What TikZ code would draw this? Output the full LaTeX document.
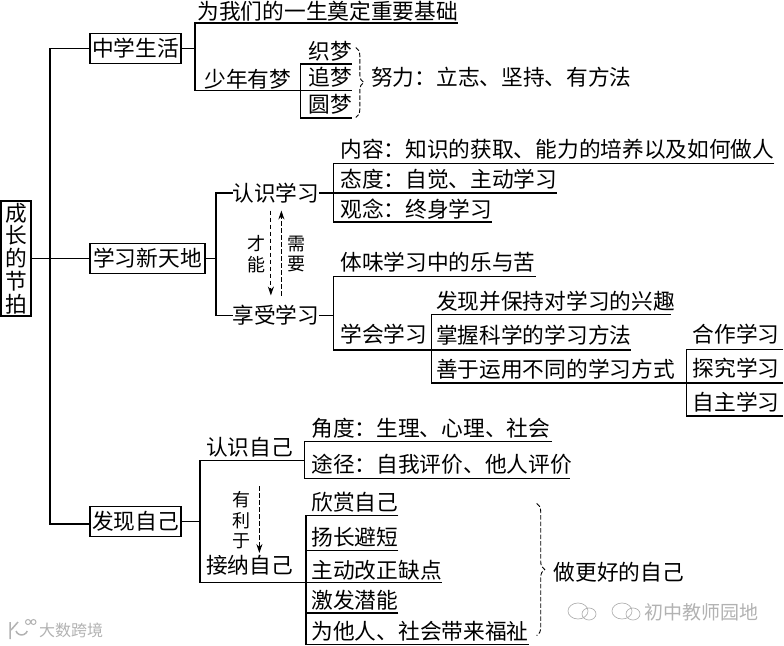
\documentclass[tikz,border=0pt]{standalone}
\usepackage{xcolor}
\usepackage{fontspec}
\setmainfont{Noto Sans CJK SC}
\usetikzlibrary{positioning,arrows.meta,decorations.pathreplacing,calc}

\begin{document}
\begin{tikzpicture}[
    x=1pt, y=-1pt, line width=1.1pt,
    rootbox/.style={draw, inner sep=0pt, outer sep=0pt, minimum width=30pt, minimum height=115pt,
        font=\fontsize{21.7}{22.8}\selectfont, align=center},
    mainbox/.style={draw, inner sep=0pt, outer sep=0pt, minimum height=30pt,
        font=\fontsize{21.7}{24}\selectfont},
    leaf/.style={inner sep=0pt, outer sep=0pt, text height=18.5pt, text depth=2.5pt,
        font=\fontsize{21.7}{24}\selectfont},
    sidetext/.style={inner sep=0pt, outer sep=0pt, font=\fontsize{18}{20.5}\selectfont, align=center},
    flow/.style={-{Stealth[length=9pt,width=6pt]}, dashed, line width=0.9pt,
        dash pattern=on 4.5pt off 2.5pt},
    dreambrace/.style={decorate, decoration={brace, amplitude=8pt}, line width=0.9pt,
        dash pattern=on 4.5pt off 2pt},
    wmark/.style={inner sep=0pt, outer sep=0pt, color=black!30},
]
\useasboundingbox (0,0) rectangle (784,645);

% Root and the three main boxes
\node[rootbox] (root) at (16,258.5) {成\\长\\的\\节\\拍};
\node[mainbox, minimum width=115pt, right=59pt of root] (study) {学习新天地};
\node[mainbox, minimum width=91pt, above=180pt of study.north west, anchor=south west] (life) {中学生活};
\node[mainbox, minimum width=91pt, below=233pt of study.south west, anchor=north west] (self) {发现自己};
\coordinate[right=19pt of root] (spine);
\draw (root) -- (study);
\draw (life.west) -| (spine) |- ([yshift=-2.5pt]self.west);

% Middle school life
\coordinate[right=14pt of life] (lifefork);
\coordinate[above=25.5pt of lifefork] (lifetop);
\node[leaf, above right=27pt and 2.5pt of lifefork] (base) {为我们的一生奠定重要基础};
\node[leaf, below right=20pt and 9.5pt of lifefork] (dream) {少年有梦};
\coordinate[below right=1pt and 9.5pt of dream.south east] (dreamfork);
\node[leaf, above right=2.5pt and 7.5pt of dreamfork] (chase) {追梦};
\node[leaf, above=5pt of chase] (weave) {织梦};
\node[leaf, below=6pt of chase] (circle) {圆梦};
\node[leaf, right=19.5pt of chase] (effort) {努力：立志、坚持、有方法};
\coordinate[above=26.5pt of dreamfork] (dreamtop);
\coordinate[below=27.5pt of dreamfork] (dreambot);
\coordinate[above left=30pt and 15.4pt of effort.west] (effortup);
\coordinate[below left=40pt and 15.4pt of effort.west] (effortdown);
\draw (life) -- (lifefork);
\draw (base.east |- lifetop) -- (lifetop) -- (lifetop |- dreamfork) -- (chase.east |- dreamfork);
\draw (chase.east |- dreamtop) -- (dreamtop) -- (dreambot) -- (chase.east |- dreambot);
\draw[dreambrace] (effortup) -- (effortdown);

% New world of study
\coordinate[right=11pt of study] (studyfork);
\node[leaf, above right=55pt and 16.5pt of studyfork] (knowstudy) {认识学习};
\node[leaf, below right=46.5pt and 16.5pt of studyfork] (enjoy) {享受学习};
\draw (study) -- (studyfork);
\draw (knowstudy.west) -| (studyfork) |- (enjoy.west);

\coordinate[right=14pt of knowstudy] (knowfork);
\coordinate[above=29.5pt of knowfork] (knowtop);
\coordinate[below=29pt of knowfork] (knowbot);
\node[leaf, above right=33pt and 7pt of knowfork] (content) {内容：知识的获取、能力的培养以及如何做人};
\node[leaf, above right=3pt and 7pt of knowfork] (attitude) {态度：自觉、主动学习};
\node[leaf, below right=6pt and 7pt of knowfork] (concept) {观念：终身学习};
\draw (knowstudy) -- (attitude.east |- knowfork);
\draw (content.east |- knowtop) -- (knowtop) -- (knowbot) -- (concept.east |- knowbot);

% Dashed arrows between the two study nodes
\draw[flow] ([shift={(-5pt,-7pt)}]knowstudy.south) -- ([shift={(-5pt,9.5pt)}]enjoy.north);
\draw[flow] ([shift={(5.5pt,9.5pt)}]enjoy.north) -- ([shift={(5.5pt,-7pt)}]knowstudy.south);
\coordinate (arrowmid) at ($(knowstudy.south)!0.5!(enjoy.north)$);
\node[sidetext, left=10pt of arrowmid] (talent) {才\\能};
\node[sidetext, right=11.6pt of arrowmid] (need) {需\\要};

\coordinate[right=14.5pt of enjoy] (enjoyfork);
\coordinate[above=39pt of enjoyfork] (enjoytop);
\node[leaf, above right=42.5pt and 6.5pt of enjoyfork] (savor) {体味学习中的乐与苦};
\node[leaf, below right=8.5pt and 6.5pt of enjoyfork] (learnhow) {学会学习};
\coordinate[below right=5pt and 4pt of learnhow.south east] (subfork);
\node[leaf, above right=4.5pt and 5pt of subfork] (grasp) {掌握科学的学习方法};
\node[leaf, above=12.5pt of grasp.north west, anchor=south west] (discover) {发现并保持对学习的兴趣};
\node[leaf, below right=9pt and 5pt of subfork] (manyway) {善于运用不同的学习方式};
\coordinate[above=35.5pt of subfork] (subtop);
\coordinate[below=33pt of subfork] (subbot);
\draw (enjoy) -- (enjoyfork);
\draw (savor.east |- enjoytop) -- (enjoytop) -- (enjoytop |- subfork) -- (grasp.east |- subfork);

\coordinate[right=255pt of subbot] (wayfork);
\coordinate[right=97pt of wayfork] (wayend);
\coordinate[above=33.5pt of wayfork] (waytop);
\coordinate[below=33pt of wayfork] (waybot);
\node[leaf, above right=4pt and 6.5pt of wayfork] (explore) {探究学习};
\node[leaf, above=13pt of explore] (teamwork) {合作学习};
\node[leaf, below right=9pt and 6.5pt of wayfork] (autonomy) {自主学习};
\draw ([xshift=-4pt]discover.east |- subtop) -- (subtop) -- (subbot) -- (wayend);
\draw (wayend |- waytop) -- (waytop) -- (waybot) -- (wayend |- waybot);

% Discovering oneself
\coordinate[right=19pt of self] (selffork);
\node[leaf, above right=63.5pt and 6pt of selffork] (knowself) {认识自己};
\node[leaf, below right=33.5pt and 6pt of selffork] (accept) {接纳自己};
\coordinate[below right=2.5pt and 11.6pt of knowself.south east] (knowselfjoin);
\coordinate[below right=6.5pt and 13.2pt of accept.south east] (acceptjoin);
\draw (self) -- (selffork);
\draw (knowselfjoin) -- (selffork |- knowselfjoin) -- (selffork |- acceptjoin) -- (acceptjoin);

\node[leaf, above right=21.5pt and 7pt of knowselfjoin] (angle) {角度：生理、心理、社会};
\node[leaf, right=7pt of knowselfjoin, yshift=-4pt] (route) {途径：自我评价、他人评价};
\coordinate[above=19pt of knowselfjoin] (angletop);
\coordinate[below=18pt of knowselfjoin] (routebot);
\draw ([xshift=2pt]angle.east |- angletop) -- (angletop) -- (routebot) -- ([xshift=-2pt]route.east |- routebot);

\draw[flow] ([shift={(10pt,-28pt)}]knowself.south) -- ([shift={(10pt,2pt)}]accept.north);
\node[sidetext, above=6pt of accept.north, xshift=-8pt] (benefit) {有\\利\\于};

\node[leaf, above right=1.5pt and 5.5pt of acceptjoin] (improve) {主动改正缺点};
\node[leaf, above=12pt of improve.north west, anchor=south west] (strength) {扬长避短};
\node[leaf, above=14pt of strength.north west, anchor=south west] (appreciate) {欣赏自己};
\node[leaf, below=9pt of improve.south west, anchor=north west] (potential) {激发潜能};
\node[leaf, below=10pt of potential.south west, anchor=north west] (others) {为他人、社会带来福祉};
\coordinate[above=67pt of acceptjoin] (accepttop);
\coordinate[below=62pt of acceptjoin] (acceptbot);
\coordinate[below=2.5pt of strength.south east] (strengthline);
\coordinate[below=2pt of potential.south east] (potentialline);
\draw (appreciate.east |- accepttop) -- (accepttop) -- (acceptbot) -- (others.east |- acceptbot);
\draw (strengthline) -- (strengthline -| acceptjoin);
\draw (acceptjoin) -- (acceptjoin -| improve.east);
\draw (potentialline) -- (potentialline -| acceptjoin);

\node[leaf, right=112pt of improve, yshift=-2pt] (better) {做更好的自己};
\coordinate[above left=69pt and 17pt of better.west] (betterup);
\coordinate[below left=63pt and 17pt of better.west] (betterdown);
\draw[dreambrace] (betterup) -- (betterdown);

% Watermarks
\node[wmark, font=\fontsize{16}{18}\selectfont] (markleft) at (71,630) {大数跨境};
\draw[wmark, line width=1.5pt] (10,622) -- (10,639) (18,622) -- (11,630) (16,631) arc (200:340:6pt);
\draw[wmark, line width=1pt] (28,622) circle (2.5pt) (33.5,622) circle (2.5pt);
\node[wmark, font=\fontsize{19}{21}\selectfont] (markright) at (701,612) {初中教师园地};
\draw[wmark, line width=0.7pt] (578,611) ellipse (10pt and 8pt) (589,614) ellipse (7pt and 6pt)
    (622,611) ellipse (10pt and 8pt) (633,614) ellipse (7pt and 6pt);
\end{tikzpicture}
\end{document}
